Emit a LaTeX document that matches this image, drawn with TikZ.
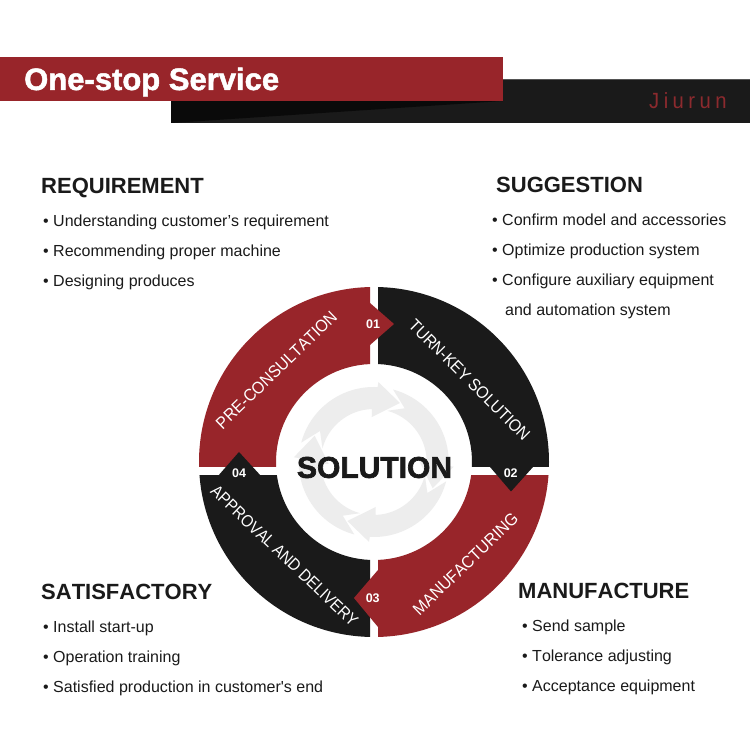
\documentclass[tikz,border=0pt]{standalone}
\usepackage{fontspec}
\setmainfont{Liberation Sans}[Kerning=Off]
\newfontfamily\heavy[BoldFeatures={FakeBold=2.2}]{Liberation Sans}
\newfontfamily\heavyb[BoldFeatures={FakeBold=1.6},Kerning=Off]{Liberation Sans}
\newfontfamily\jiu[LetterSpace=22]{Liberation Sans}
\definecolor{brandred}{HTML}{98252A}
\definecolor{brandblack}{HTML}{1A1A1A}
\definecolor{wedge}{HTML}{0A0A0A}
\definecolor{ringgray}{HTML}{EDEDED}
\definecolor{jiured}{HTML}{8C2A2E}
\newcommand{\narrowtext}[2]{\scalebox{#1}[1]{#2}}
\tikzset{
  heading/.style={anchor=base west,inner sep=0pt,text=brandblack,font=\fontsize{22}{24}\selectfont\bfseries},
  body/.style={anchor=base west,inner sep=0pt,text=brandblack,font=\fontsize{16}{18}\selectfont},
  segtext/.style={inner sep=0pt,text=white,font=\fontsize{17}{18}\selectfont},
  numtext/.style={inner sep=0pt,text=white,font=\fontsize{12.5}{14}\selectfont\bfseries},
}
\begin{document}
\begin{tikzpicture}[x=1pt,y=1pt]
\useasboundingbox (0,0) rectangle (750,741);
\fill[white] (0,0) rectangle (750,741);
% header
\fill[brandblack] (171,618) rectangle (750,662);
\fill[wedge] (171,640) -- (503,640) -- (171,618) -- cycle;
\draw[line width=.7pt,color=brandblack!75!white] (503,661.8) -- (750,661.8);
\fill[brandred] (0,640) rectangle (503,684);
\node[anchor=base west,inner sep=0pt,text=white,font=\heavyb\fontsize{31}{32}\selectfont\bfseries] (title) at (24,651) {One-stop Service};
\node[anchor=base west,inner sep=0pt,text=jiured,font=\jiu\fontsize{22}{22}\selectfont] (brand) at (649,632) {\scalebox{.92}[1]{Jiurun}};
% ring segments
\coordinate (c) at (374,279);
\begin{scope}\clip (0,274) rectangle (370,741);
\fill[brandred,even odd rule] (c) circle (175) (c) circle (98);\end{scope}
\begin{scope}\clip (378,274) rectangle (750,741);
\fill[brandblack,even odd rule] (c) circle (175) (c) circle (98);\end{scope}
\begin{scope}\clip (378,0) rectangle (750,265);
\fill[brandred,even odd rule] (c) circle (175) (c) circle (98);\end{scope}
\begin{scope}\clip (0,0) rectangle (370,265);
\fill[brandblack,even odd rule] (c) circle (175) (c) circle (98);\end{scope}
% tabs
\fill[brandred] (370,438) -- (394,417) -- (370,396) -- cycle;
\fill[brandblack] (490,274) -- (511,249.5) -- (533,274) -- cycle;
\fill[brandred] (378,171) -- (354,143) -- (378,114) -- cycle;
\fill[brandblack] (218,265) -- (239,289) -- (261,265) -- cycle;
% recycle arrows
\foreach \a in {0,90,180,270}{
\begin{scope}[shift={(373.7,279)},rotate=\a]
\fill[ringgray] (165:75) arc[start angle=165,end angle=87,radius=75]
  -- (86.6:80) -- (66:64.6) -- (92.5:45) -- (92:53)
  arc[start angle=92,end angle=165,radius=53] -- (150:62) -- cycle;
\end{scope}}
% labels on ring
\node[segtext,rotate=44] (pre) at (276.5,371) {\narrowtext{.925}{PRE-CONSULTATION}};
\node[segtext,rotate=-45] (turn) at (469.5,361) {\narrowtext{.915}{TURN-KEY SOLUTION}};
\node[segtext,rotate=44] (manu) at (465.5,177) {\narrowtext{.93}{MANUFACTURING}};
\node[segtext,rotate=-43.5] (appr) at (284.5,185) {\narrowtext{.885}{APPROVAL AND DELIVERY}};
\node[numtext] (n1) at (373,416.5) {01};
\node[numtext] (n2) at (510.7,268) {02};
\node[numtext] (n3) at (372.7,143) {03};
\node[numtext] (n4) at (239,268) {04};
\node[inner sep=0pt,text=brandblack,font=\heavy\fontsize{30}{32}\selectfont\bfseries] (sol) at (374.5,273.5) {SOLUTION};
% text blocks
\node[heading] (h1) at (41,547) {REQUIREMENT};
\node[body] (a1) at (43,514) {• Understanding customer’s requirement};
\node[body] (a2) at (43,484) {• Recommending proper machine};
\node[body] (a3) at (43,454) {• Designing produces};
\node[heading] (h2) at (496,548) {SUGGESTION};
\node[body] (b1) at (492,515) {• Confirm model and accessories};
\node[body] (b2) at (492,485) {• Optimize production system};
\node[body] (b3) at (492,455) {• Configure auxiliary equipment};
\node[body] (b4) at (505,425) {and automation system};
\node[heading] (h3) at (41,141) {SATISFACTORY};
\node[body] (c1) at (43,108) {• Install start-up};
\node[body] (c2) at (43,78) {• Operation training};
\node[body] (c3) at (43,48) {• Satisfied production in customer\textquotesingle s end};
\node[heading] (h4) at (518,142) {MANUFACTURE};
\node[body] (d1) at (522,109) {• Send sample};
\node[body] (d2) at (522,79) {• Tolerance adjusting};
\node[body] (d3) at (522,49) {• Acceptance equipment};
\end{tikzpicture}
\end{document}
